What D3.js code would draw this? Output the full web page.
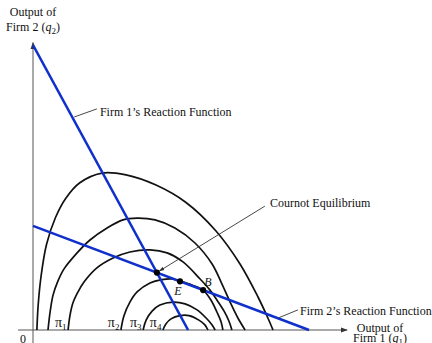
<!DOCTYPE html>
<html>
<head>
<meta charset="utf-8">
<script src="https://cdn.jsdelivr.net/npm/d3@7"></script>
<style>
  body { margin: 0; background: #fff; }
  svg { display: block; }
</style>
</head>
<body>
<svg id="chart" width="432" height="343" font-family="'Liberation Serif', 'Times New Roman', Times, serif" font-size="12"></svg>
<script>
// Output of firm 1 (q1) and firm 2 (q2), in arbitrary units
const q1Domain = [0, 100];
const q2Domain = [0, 100];

// Reaction functions (end points on the axes)
const reaction1 = [[0, 95], [51.7, 0]];
const reaction2 = [[0, 34.7], [92, 0]];

// Firm 1's isoprofit curves, outermost to innermost
const isoA = [[1.3,0],[1.7,8],[2.7,18],[4.5,28.5],[7.5,37.5],[11,44],[15.5,49],[23,52.3],[31,51.7],[41,48.3],[51,42.5],[61,33],[69,22],[75,11],[78.3,4],[80,0]];
const isoB = [[5,0],[5.7,6],[6.7,11.7],[8.3,16.3],[10.3,20.3],[14.7,25.7],[19,30],[24.7,34],[30,36.7],[34.7,37.3],[40.7,36.7],[47.3,34],[54,29],[59.7,22],[63,15.3],[65.7,9.3],[68.3,4],[70.7,0]];
const isoC = [[11.7,0],[12.3,4.7],[13.3,9],[15,12.7],[17,16],[21.3,20.7],[26.7,24],[32.3,26],[39,26.7],[44.7,25.7],[50,22.7],[55.7,17],[59,13.3],[61.3,10],[63.7,6.3],[65.3,3],[66.3,0]];
const isoD = [[29.3,0],[30.3,4.7],[32.3,9.3],[34.7,12.7],[39,15.7],[43,16.8],[46.3,17],[49,16.3],[53,15],[56.7,13.3],[59.3,10],[61.3,6],[62.7,2.7],[63.3,0]];
const isoE = [[36.7,0],[37.7,3.3],[39.7,6.3],[42.3,8.3],[46.7,9.3],[50.7,8.7],[54.7,6.7],[57.7,4],[59.7,1.7],[60.7,0]];
const isoF = [[43.3,0],[44.3,2],[46,3.7],[49,4.8],[52,4.8],[55.3,3.3],[57.3,1.7],[58.3,0]];
const isoprofitCurves = [isoA, isoB, isoC, isoD, isoE, isoF];
const isoprofitLabels = [null, null, "1", "2", "3", "4"];

// Points E and B lie on firm 2's reaction function
const pointsOnReaction2 = [{ name: "E", q1: 49 }, { name: "B", q1: 56.7 }];

const svg = d3.select("#chart");
const x = d3.scaleLinear().domain(q1Domain).range([33, 333]);
const y = d3.scaleLinear().domain(q2Domain).range([330, 30]);

const BLUE = "#1030cc";
const AXIS = "#555";
const INK = "#111";

// helpers
const lineOn = (pts, q1) => {
  const [[x0, y0], [x1, y1]] = pts;
  return y0 + (y1 - y0) * (q1 - x0) / (x1 - x0);
};
function label(px, py, anchor) {
  return svg.append("text").attr("x", px).attr("y", py)
    .attr("text-anchor", anchor || "start").attr("fill", INK);
}
function rich(sel, parts) {
  parts.forEach(p => {
    const t = sel.append("tspan").text(p.t);
    if (p.i) t.attr("font-style", "italic");
    if (p.big) t.attr("font-size", 14);
    if (p.sub) t.attr("font-size", 9).attr("dy", 3);
    if (p.up) t.attr("dy", -3);
  });
  return sel;
}

// arrow markers
const defs = svg.append("defs");
defs.append("marker").attr("id", "axisArrow")
  .attr("viewBox", "0 0 10 10").attr("refX", 9).attr("refY", 5)
  .attr("markerWidth", 7).attr("markerHeight", 7).attr("orient", "auto")
  .append("path").attr("d", "M0,1.5 L10,5 L0,8.5 Z").attr("fill", "#333");
defs.append("marker").attr("id", "leaderArrow")
  .attr("viewBox", "0 0 10 10").attr("refX", 9).attr("refY", 5)
  .attr("markerWidth", 6).attr("markerHeight", 6).attr("orient", "auto")
  .append("path").attr("d", "M0,1.5 L10,5 L0,8.5 Z").attr("fill", "#333");

// axes
svg.append("line")
  .attr("x1", x(-5)).attr("y1", y(0)).attr("x2", x(104.7)).attr("y2", y(0))
  .attr("stroke", AXIS).attr("stroke-width", 1).attr("marker-end", "url(#axisArrow)");
svg.append("line")
  .attr("x1", x(0)).attr("y1", y(-4.5)).attr("x2", x(0)).attr("y2", y(95.8))
  .attr("stroke", AXIS).attr("stroke-width", 1).attr("marker-end", "url(#axisArrow)");

// isoprofit curves
const curveGen = d3.line().x(d => x(d[0])).y(d => y(d[1])).curve(d3.curveCatmullRom.alpha(0.5));
svg.append("g").selectAll("path").data(isoprofitCurves).join("path")
  .attr("d", curveGen).attr("fill", "none").attr("stroke", INK).attr("stroke-width", 1.7);

// reaction functions
const straight = d3.line().x(d => x(d[0])).y(d => y(d[1]));
[reaction1, reaction2].forEach(r => {
  svg.append("path").attr("d", straight(r)).attr("fill", "none")
    .attr("stroke", BLUE).attr("stroke-width", 2.6);
});

// Cournot equilibrium: intersection of the reaction functions
const s1 = (reaction1[1][1] - reaction1[0][1]) / (reaction1[1][0] - reaction1[0][0]);
const s2 = (reaction2[1][1] - reaction2[0][1]) / (reaction2[1][0] - reaction2[0][0]);
const cq1 = (reaction2[0][1] - reaction1[0][1]) / (s1 - s2);
const cq2 = reaction1[0][1] + s1 * cq1;

const dots = [{ q1: cq1, q2: cq2 }].concat(pointsOnReaction2.map(p => ({ q1: p.q1, q2: lineOn(reaction2, p.q1), name: p.name })));
svg.append("g").selectAll("circle").data(dots).join("circle")
  .attr("cx", d => x(d.q1)).attr("cy", d => y(d.q2)).attr("r", 3.1).attr("fill", "#000");

// E and B labels
label(x(48.3), y(11.8), "middle").attr("font-style", "italic").text("E");
label(x(58.3), y(14.7), "middle").attr("font-style", "italic").text("B");

// isoprofit labels
isoprofitCurves.forEach((c, i) => {
  if (!isoprofitLabels[i]) return;
  rich(label(x(c[0][0] - 0.5), y(1.0), "end"), [{ t: "π", big: true }, { t: isoprofitLabels[i], sub: true }]);
});

// leader lines
const leader = (a, b, arrow) => {
  const l = svg.append("line").attr("x1", a[0]).attr("y1", a[1]).attr("x2", b[0]).attr("y2", b[1])
    .attr("stroke", "#333").attr("stroke-width", 0.9);
  if (arrow) l.attr("marker-end", "url(#leaderArrow)");
};
const r1q1 = q2 => reaction1[1][0] * (1 - q2 / reaction1[0][1]);
leader([x(r1q1(71)) + 2, y(71)], [x(21.3), y(73.7)]);
leader([x(77.3), y(41.3)], [x(cq1) + 2.5, y(cq2) - 1.6], true);
leader([x(82), y(lineOn(reaction2, 82)) - 1], [x(88.3), y(6.7)]);

label(x(22.3), y(71.3)).text("Firm 1\u2019s Reaction Function");
label(x(79), y(41)).text("Cournot Equilibrium");
label(x(89), y(5)).text("Firm 2\u2019s Reaction Function");

// axis titles
label(x(0), 16, "middle").text("Output of");
rich(label(x(0), 30.5, "middle"),
  [{ t: "Firm 2 (" }, { t: "q", i: true }, { t: "2", sub: true }, { t: ")", up: true }]);
label(380, 331.5, "middle").text("Output of");
rich(label(380, 341.5, "middle"),
  [{ t: "Firm 1 (" }, { t: "q", i: true }, { t: "1", sub: true }, { t: ")", up: true }]);
label(x(0) - 10, 343, "middle").text("0");
</script>
</body>
</html>
